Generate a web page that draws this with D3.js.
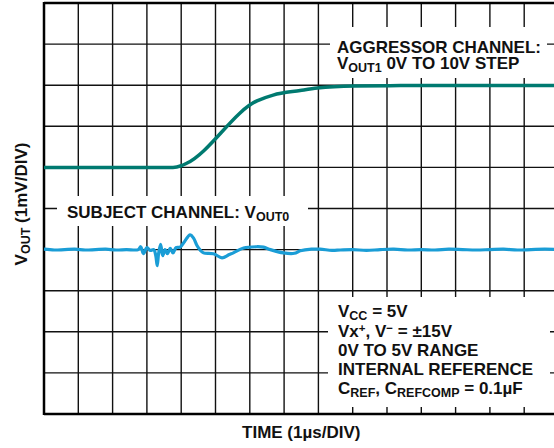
<!DOCTYPE html>
<html>
<head>
<meta charset="utf-8">
<script src="https://cdn.jsdelivr.net/npm/d3@7"></script>
<style>
  body { margin: 0; background: #fff; }
  svg text { font-family: "Liberation Sans", Arial, sans-serif; font-weight: bold; fill: #111; }
</style>
</head>
<body>
<div id="grafico"></div>
<script>
// divisiones del osciloscopio
const divisionesX = d3.range(0, 16);      // 1 µs/DIV
const divisionesY = d3.range(-4, 7);      // 1 mV/DIV

// canal agresor (VOUT1, en divisiones)
const tiempoAgresor = [0, 3.76, 4.0, 4.16, 6.21, 6.68, 7.47, 7.97, 9.05, 10.39, 15];
const valorAgresor = [2.0, 2.0, 2.04, 2.10, 3.62, 3.76, 3.87, 3.93, 3.98, 3.99, 3.99];

// canal sujeto (VOUT0, mV)
const tiempoSujeto = [0, 0.3, 0.6, 0.9, 1.2, 1.5, 1.8, 2.1, 2.4, 2.75, 2.82, 2.90, 3.00, 3.10, 3.20, 3.26, 3.30, 3.34, 3.40, 3.46, 3.53, 3.60, 3.68, 3.76, 3.85, 3.97, 4.10, 4.26, 4.36, 4.46, 4.56, 4.65, 4.94, 5.19, 5.40, 5.52, 5.82, 6.21, 6.40, 6.60, 6.98, 7.30, 7.47, 7.8, 8.05, 8.4, 8.64, 9.0, 9.4, 9.8, 10.2, 10.6, 11.0, 11.4, 11.8, 12.2, 12.6, 13.0, 13.4, 13.8, 14.2, 14.6, 15];
const valorSujeto = [0.01, -0.01, 0.0, 0.01, -0.01, 0.0, 0.01, -0.01, 0.0, 0.0, 0.07, -0.10, 0.05, -0.02, 0.0, -0.15, -0.39, -0.10, 0.13, -0.15, 0.0, -0.10, 0.03, -0.08, 0.05, 0.06, 0.20, 0.36, 0.28, 0.10, -0.02, -0.08, -0.10, -0.20, -0.12, -0.08, 0.04, 0.07, 0.06, 0.0, -0.08, -0.09, -0.03, 0.01, 0.01, -0.02, -0.01, 0.0, -0.02, 0.0, 0.01, -0.01, 0.0, -0.01, 0.01, 0.0, -0.01, 0.0, 0.01, -0.01, 0.0, 0.01, 0.0];

const ancho = 554, alto = 448;
const izq = 44, arriba = 3, der = 558.5, abajo = 414;

const svg = d3.select("#grafico").append("svg")
  .attr("width", ancho)
  .attr("height", alto);

const x = d3.scaleLinear().domain([0, 15]).range([izq, der]);
const y = d3.scaleLinear().domain([-4, 6]).range([abajo, arriba]);

// cuadricula
svg.selectAll("line.vert")
  .data(divisionesX)
  .enter().append("line")
  .attr("class", "vert")
  .attr("x1", d => x(d)).attr("x2", d => x(d))
  .attr("y1", arriba).attr("y2", abajo)
  .attr("stroke", "#111").attr("stroke-width", 1.4);

svg.selectAll("line.horiz")
  .data(divisionesY)
  .enter().append("line")
  .attr("class", "horiz")
  .attr("x1", izq).attr("x2", der)
  .attr("y1", d => y(d)).attr("y2", d => y(d))
  .attr("stroke", "#111").attr("stroke-width", 1.4);

// marco
svg.append("line").attr("x1", izq).attr("x2", izq).attr("y1", arriba - 1).attr("y2", abajo + 1)
  .attr("stroke", "#000").attr("stroke-width", 2.5);
svg.append("line").attr("x1", izq).attr("x2", der).attr("y1", arriba).attr("y2", arriba)
  .attr("stroke", "#000").attr("stroke-width", 2.5);
svg.append("line").attr("x1", izq).attr("x2", der).attr("y1", abajo).attr("y2", abajo)
  .attr("stroke", "#000").attr("stroke-width", 2.5);

// cajas blancas de las etiquetas
const cajas = [
  { x: 330, y: 27, w: 217, h: 51 },
  { x: 57, y: 196, w: 251, h: 30 },
  { x: 328, y: 297, w: 222, h: 110 }
];
svg.selectAll("rect.caja")
  .data(cajas)
  .enter().append("rect")
  .attr("class", "caja")
  .attr("x", d => d.x).attr("y", d => d.y)
  .attr("width", d => d.w).attr("height", d => d.h)
  .attr("fill", "#fff");

// trazas
const linea = d3.line().x(d => x(d[0])).y(d => y(d[1])).curve(d3.curveMonotoneX);

svg.append("path")
  .datum(d3.zip(tiempoAgresor, valorAgresor))
  .attr("d", linea)
  .attr("fill", "none")
  .attr("stroke", "#007a70")
  .attr("stroke-width", 3.5);

svg.append("path")
  .datum(d3.zip(tiempoSujeto, valorSujeto))
  .attr("d", d3.line().x(d => x(d[0])).y(d => y(d[1])).curve(d3.curveCatmullRom))
  .attr("fill", "none")
  .attr("stroke", "#1a9dd6")
  .attr("stroke-width", 3.2)
  .attr("stroke-linejoin", "round");

// textos con subindices y superindices (baseline-shift, sin dy acumulado)
function texto(xx, yy, partes) {
  const t = svg.append("text").attr("x", xx).attr("y", yy).attr("font-size", 17);
  partes.forEach(p => {
    if (typeof p === "string") {
      t.append("tspan").text(p);
    } else if (p.sub) {
      t.append("tspan").attr("baseline-shift", -3).attr("font-size", 12.5).text(p.sub);
    } else if (p.sup) {
      t.append("tspan").attr("baseline-shift", 5).attr("font-size", 11.5).text(p.sup);
    }
  });
  return t;
}

texto(337, 53, ["AGGRESSOR CHANNEL:"]);
texto(337, 68.5, ["V", { sub: "OUT1" }, " 0V TO 10V STEP"]);

texto(67, 217.7, ["SUBJECT CHANNEL: V", { sub: "OUT0" }]);

texto(338, 316.7, ["V", { sub: "CC" }, " = 5V"]);
texto(338, 336.5, ["Vx", { sup: "+" }, ", V", { sup: "\u2212" }, " = \u00b115V"]);
texto(338, 355.7, ["0V TO 5V RANGE"]);
texto(338, 375, ["INTERNAL REFERENCE"]);
texto(338, 394, ["C", { sub: "REF" }, ", C", { sub: "REFCOMP" }, " = 0.1\u00b5F"]);

// ejes
svg.append("text")
  .attr("x", (izq + der) / 2).attr("y", 438)
  .attr("text-anchor", "middle")
  .attr("font-size", 17)
  .text("TIME (1\u00b5s/DIV)");

const ty = svg.append("text")
  .attr("transform", "translate(27," + 204 + ") rotate(-90)")
  .attr("text-anchor", "middle")
  .attr("font-size", 17);
ty.append("tspan").text("V");
ty.append("tspan").attr("baseline-shift", -3).attr("font-size", 12.5).text("OUT");
ty.append("tspan").text(" (1mV/DIV)");
</script>
</body>
</html>
